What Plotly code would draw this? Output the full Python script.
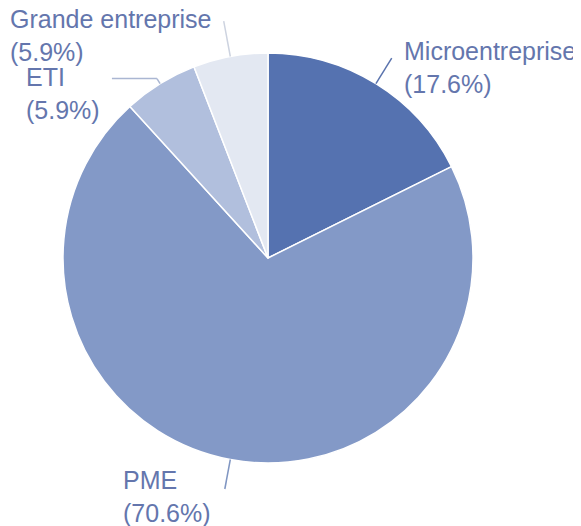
import math
import plotly.graph_objects as go

categories = ["Microentreprise", "PME", "ETI", "Grande entreprise"]
values = [3, 12, 1, 1]
colors = ["#5572b0", "#8399c7", "#b1bfdd", "#e3e8f2"]
line_colors = ["#5a73ad", "#8096c2", "#aab6d2", "#cdd3e0"]

# page body has an 8px margin, so work in coordinates shifted by 8px
OFF = 8
W, H = 581 - OFF, 526 - OFF
CX, CY, R = 268 - OFF, 258 - OFF, 205
TEXT_COLOR = "#6476ad"
FONT = "Liberation Sans, Arial, sans-serif"
FS = 25

# per-label leader style: radial length, horizontal length, text gap, text vertical shift
line_style = {
    "Microentreprise": (30, 0, 10, -9),
    "PME": (30, 0, 12, -8),
    "ETI": (6, 45, 10, -15),
    "Grande entreprise": (36, 0, 10, -14),
}

fig = go.Figure()
fig.add_trace(go.Pie(
    labels=categories,
    values=values,
    sort=False,
    direction="clockwise",
    rotation=0,
    textinfo="none",
    hoverinfo="skip",
    marker=dict(colors=colors, line=dict(color="white", width=1.5)),
    domain=dict(x=[(CX - R) / W, (CX + R) / W], y=[(H - CY - R) / H, (H - CY + R) / H]),
    showlegend=False,
))

def px(x):
    return x / W

def py(y):
    return 1 - y / H

total = sum(values)
cum = 0
shapes = []
annotations = []
for cat, v, lc in zip(categories, values, line_colors):
    mid = (cum + v / 2) / total * 2 * math.pi
    cum += v
    s, c = math.sin(mid), math.cos(mid)
    x0, y0 = CX + R * s, CY - R * c
    L1, L2, gap, ysh = line_style[cat]
    x1, y1 = CX + (R + L1) * s, CY - (R + L1) * c
    right = s >= 0
    x2 = x1 + (L2 if right else -L2)
    y2 = y1
    shapes.append(dict(type="line", xref="paper", yref="paper",
                       x0=px(x0), y0=py(y0), x1=px(x1), y1=py(y1),
                       line=dict(color=lc, width=1.5)))
    if L2:
        shapes.append(dict(type="line", xref="paper", yref="paper",
                           x0=px(x1), y0=py(y1), x1=px(x2), y1=py(y2),
                           line=dict(color=lc, width=1.5)))
    pct = v / total * 100
    annotations.append(dict(
        xref="paper", yref="paper",
        x=px(x2 + (gap if right else -gap)), y=py(y2),
        xanchor="left" if right else "right", yanchor="middle",
        align="left", yshift=ysh,
        text=f"{cat}<br>({pct:.1f}%)",
        showarrow=False,
        font=dict(family=FONT, size=FS, color=TEXT_COLOR),
    ))

fig.update_layout(
    width=W, height=H,
    margin=dict(l=0, r=0, t=0, b=0),
    paper_bgcolor="white",
    plot_bgcolor="white",
    shapes=shapes,
    annotations=annotations,
)

fig.write_html("out.html")
